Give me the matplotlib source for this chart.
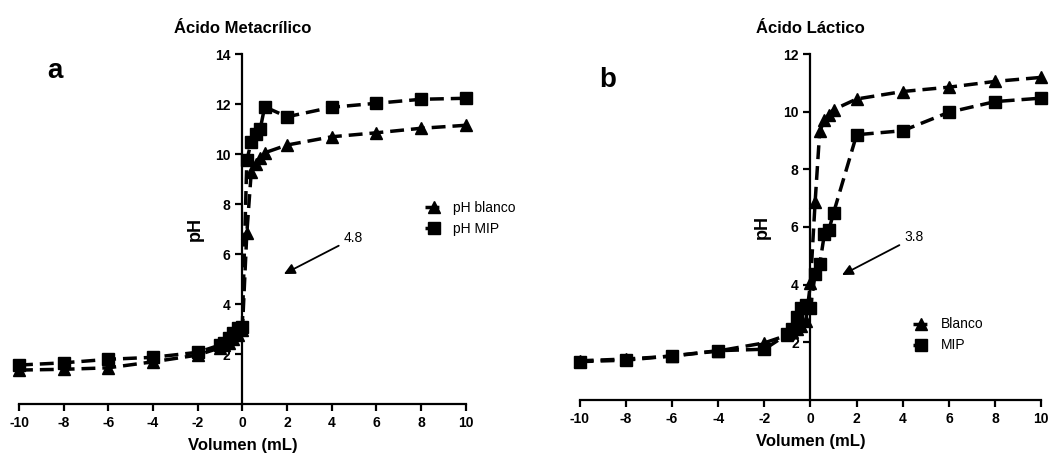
import numpy as np
import matplotlib.pyplot as plt

plt.rcParams['font.family'] = ['Liberation Sans', 'DejaVu Sans']
plt.rcParams['axes.unicode_minus'] = False

# Panel a: Acido Metacrilico
vol_a_blanco = [-10, -8, -6, -4, -2, -1, -0.8, -0.6, -0.4, -0.2, 0, 0.2, 0.4, 0.6, 0.8, 1, 2, 4, 6, 8, 10]
ph_a_blanco = [1.36, 1.39, 1.45, 1.69, 1.96, 2.25, 2.35, 2.45, 2.6, 2.75, 2.95, 6.83, 9.3, 9.6, 9.85, 10.05, 10.36, 10.69, 10.85, 11.03, 11.15]
vol_a_mip = [-10, -8, -6, -4, -2, -1, -0.8, -0.6, -0.4, -0.2, 0, 0.2, 0.4, 0.6, 0.8, 1, 2, 4, 6, 8, 10]
ph_a_mip = [1.56, 1.65, 1.79, 1.87, 2.07, 2.36, 2.44, 2.64, 2.84, 3.05, 3.1, 9.75, 10.5, 10.8, 11.0, 11.89, 11.49, 11.87, 12.03, 12.19, 12.23]

# Panel b: Acido Lactico
vol_b_blanco = [-10, -8, -6, -4, -2, -1, -0.8, -0.6, -0.4, -0.2, 0, 0.2, 0.4, 0.6, 0.8, 1, 2, 4, 6, 8, 10]
ph_b_blanco = [1.36, 1.42, 1.52, 1.7, 1.98, 2.25, 2.35, 2.45, 2.55, 2.75, 4.05, 6.85, 9.32, 9.7, 9.9, 10.07, 10.44, 10.7, 10.85, 11.05, 11.19]
vol_b_mip = [-10, -8, -6, -4, -2, -1, -0.8, -0.6, -0.4, -0.2, 0, 0.2, 0.4, 0.6, 0.8, 1, 2, 4, 6, 8, 10]
ph_b_mip = [1.33, 1.38, 1.53, 1.71, 1.76, 2.28, 2.46, 2.87, 3.2, 3.3, 3.2, 4.36, 4.7, 5.74, 5.9, 6.49, 9.2, 9.34, 9.98, 10.35, 10.47]

xticks = [-10, -8, -6, -4, -2, 0, 2, 4, 6, 8, 10]

fig = plt.figure(figsize=(10.56, 4.54), dpi=100)
ax_a = fig.add_axes([0.018, 0.110, 0.423, 0.771])
ax_b = fig.add_axes([0.549, 0.119, 0.437, 0.762])

dash = (0, (4, 2))


def style_axis(ax, ymax, yticks):
    ax.set_xlim(-10, 10)
    ax.set_ylim(0, ymax)
    ax.spines['left'].set_position(('data', 0))
    ax.spines['right'].set_visible(False)
    ax.spines['top'].set_visible(False)
    for s in ['left', 'bottom']:
        ax.spines[s].set_linewidth(1.6)
    ax.set_xticks(xticks)
    ax.set_yticks(yticks)
    ax.tick_params(width=1.6, length=5, labelsize=10)
    for lab in ax.get_xticklabels() + ax.get_yticklabels():
        lab.set_fontweight('bold')
    ax.set_xlabel('Volumen (mL)', fontsize=12, fontweight='bold', labelpad=6)
    ax.set_ylabel('pH', fontsize=13, fontweight='bold')
    ax.yaxis.set_label_coords(0.414, 0.5)


ax_a.plot(vol_a_blanco, ph_a_blanco, color='black', ls=dash, lw=2.5, marker='^',
          ms=9, clip_on=False, label='pH blanco')
ax_a.plot(vol_a_mip, ph_a_mip, color='black', ls=dash, lw=2.5, marker='s',
          ms=8, clip_on=False, label='pH MIP')
style_axis(ax_a, 14, [2, 4, 6, 8, 10, 12, 14])
ax_a.set_title('Ácido Metacrílico', fontsize=12, fontweight='bold', pad=15)
ax_a.legend(loc='center left', bbox_to_anchor=(0.91, 0.53), frameon=False,
            handlelength=1.2, handletextpad=0.8, borderpad=0, borderaxespad=0, fontsize=10)
ax_a.annotate('4.8', xy=(1.75, 5.15), xytext=(4.55, 6.64), fontsize=10,
              ha='left', va='center',
              arrowprops=dict(arrowstyle='-|>', color='black', lw=1.3, mutation_scale=16))

ax_b.plot(vol_b_blanco, ph_b_blanco, color='black', ls=dash, lw=2.5, marker='^',
          ms=9, clip_on=False, label='Blanco')
ax_b.plot(vol_b_mip, ph_b_mip, color='black', ls=dash, lw=2.5, marker='s',
          ms=8, clip_on=False, label='MIP')
style_axis(ax_b, 12, [2, 4, 6, 8, 10, 12])
ax_b.set_title('Ácido Láctico', fontsize=12, fontweight='bold', pad=15)
ax_b.legend(loc='center left', bbox_to_anchor=(0.722, 0.188), frameon=False,
            handlelength=1.2, handletextpad=0.8, borderpad=0, borderaxespad=0, fontsize=10)
ax_b.annotate('3.8', xy=(1.26, 4.29), xytext=(4.08, 5.64), fontsize=10,
              ha='left', va='center',
              arrowprops=dict(arrowstyle='-|>', color='black', lw=1.3, mutation_scale=16))

fig.text(55 / 1056, 1 - 78 / 454, 'a', fontsize=20, fontweight='bold', ha='center', va='baseline')
fig.text(608 / 1056, 1 - 87 / 454, 'b', fontsize=20, fontweight='bold', ha='center', va='baseline')

fig.savefig('out.png', dpi=100)
